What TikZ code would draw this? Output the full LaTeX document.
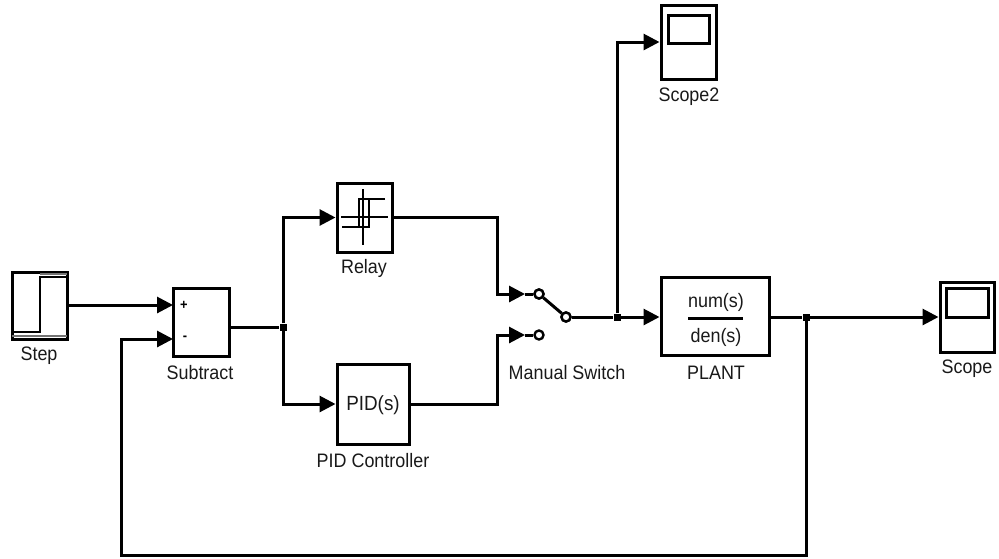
\documentclass[tikz,border=0pt]{standalone}
\usepackage{fontspec}
\setmainfont{Liberation Sans}[FakeStretch=0.92]
\usetikzlibrary{arrows.meta}
\begin{document}
\begin{tikzpicture}[x=1pt,y=-1pt,
 blk/.style={draw,line width=3pt,inner sep=0pt},
 wire/.style={line width=3pt},
 arr/.style={wire,-{Triangle[length=16pt,width=16pt]}},
 lbl/.style={font=\fontsize{19.5}{22}\selectfont,inner sep=0pt,text=black!90},
 jn/.style={fill,rectangle,minimum size=7pt,inner sep=0pt},
 sw/.style={draw,circle,line width=2.4pt,minimum size=9pt,inner sep=0pt,fill=white},
 sym/.style={line width=2.6pt}]
\useasboundingbox (0,0) rectangle (999,558);
% blocks
\node[blk,minimum width=55pt,minimum height=67pt] (step) at (39.5,305.5) {};
\node[blk,minimum width=56pt,minimum height=68pt] (sub) at (201,322) {};
\node[blk,minimum width=55pt,minimum height=69pt] (relay) at (364.5,217.5) {};
\node[blk,minimum width=72pt,minimum height=80pt] (pid) at (373,404) {};
\node[blk,minimum width=108pt,minimum height=78pt] (plant) at (715,316) {};
\node[blk,minimum width=55pt,minimum height=74pt] (scope2) at (688.5,42) {};
\node[blk,minimum width=54pt,minimum height=70pt] (scope) at (967,317) {};
% block contents
\draw[sym] (12,332) -- (40,332) -- (40,277) -- (67,277);
\draw[line width=1.2pt,black!55] (12,336) -- (67,336);
\draw[line width=1.2pt,black!55] (40,274) -- (67,274);
\node[font=\bfseries\fontsize{14}{14}\selectfont] (plus) at (184,305) {+};
\node[font=\bfseries\fontsize{14}{14}\selectfont] (minus) at (185,338) {-};
\draw[sym] (341,217) -- (388,217);
\draw[sym] (363,189) -- (363,245);
\draw[sym] (342,227) -- (369,227) -- (369,199);
\draw[sym] (385,199) -- (359,199) -- (359,227);
\node[lbl,font=\fontsize{20.5}{23}\selectfont] (pidtxt) at (373,405) {PID(s)};
\node[lbl] (num) at (716,302) {num(s)};
\node[lbl] (den) at (716,337) {den(s)};
\draw[line width=3pt] (688,318) -- (743,318);
\draw[blk] (668,15) rectangle (709,43);
\draw[blk] (946,288) rectangle (988,317);
% labels
\node[lbl] (lstep) at (39,356) {Step};
\node[lbl] (lsub) at (200,373) {Subtract};
\node[lbl] (lrelay) at (364,268) {Relay};
\node[lbl] (lpid) at (373,461) {PID Controller};
\node[lbl] (lsw) at (567,373) {Manual Switch};
\node[lbl] (lscope2) at (689,97) {Scope2};
\node[lbl] (lplant) at (716,373) {PLANT};
\node[lbl] (lscope) at (967,369) {Scope};
% ports and junctions
\coordinate (subin1) at (173,305);
\coordinate (subin2) at (173,339);
\coordinate (subout) at (229,327);
\coordinate (swin1) at (525,294);
\coordinate (swin2) at (525,335);
\node[jn] (j1) at (283,327) {};
\node[jn] (j2) at (617,317) {};
\node[jn] (j3) at (806,317) {};
\node[sw] (c1) at (539,294) {};
\node[sw] (c2) at (539,335) {};
\node[sw] (c3) at (566,317) {};
% wires
\draw[arr] (step.east |- 0,305) -- (subin1);
\draw[wire] (subout) -- (j1);
\draw[arr] (j1) |- (relay.west);
\draw[arr] (j1) |- (pid.west);
\draw[arr] (relay.east) -- (497,217.5) |- (swin1);
\draw[arr] (pid.east) -- (497,404) |- (swin2);
\draw[wire] (swin1) -- (c1);
\draw[wire] (swin2) -- (c2);
\draw[wire] (c1) -- (c3);
\node[sw] at (c1) {};
\node[sw] at (c3) {};
\draw[wire] (c3) -- (j2);
\draw[arr] (j2) -- (plant.west |- j2);
\draw[arr] (j2) |- (scope2.west);
\draw[wire] (plant.east |- 0,317) -- (j3);
\draw[arr] (j3) -- (scope.west);
\draw[arr] (j3) -- (806,555) -- (121,555) |- (subin2);
\end{tikzpicture}
\end{document}
